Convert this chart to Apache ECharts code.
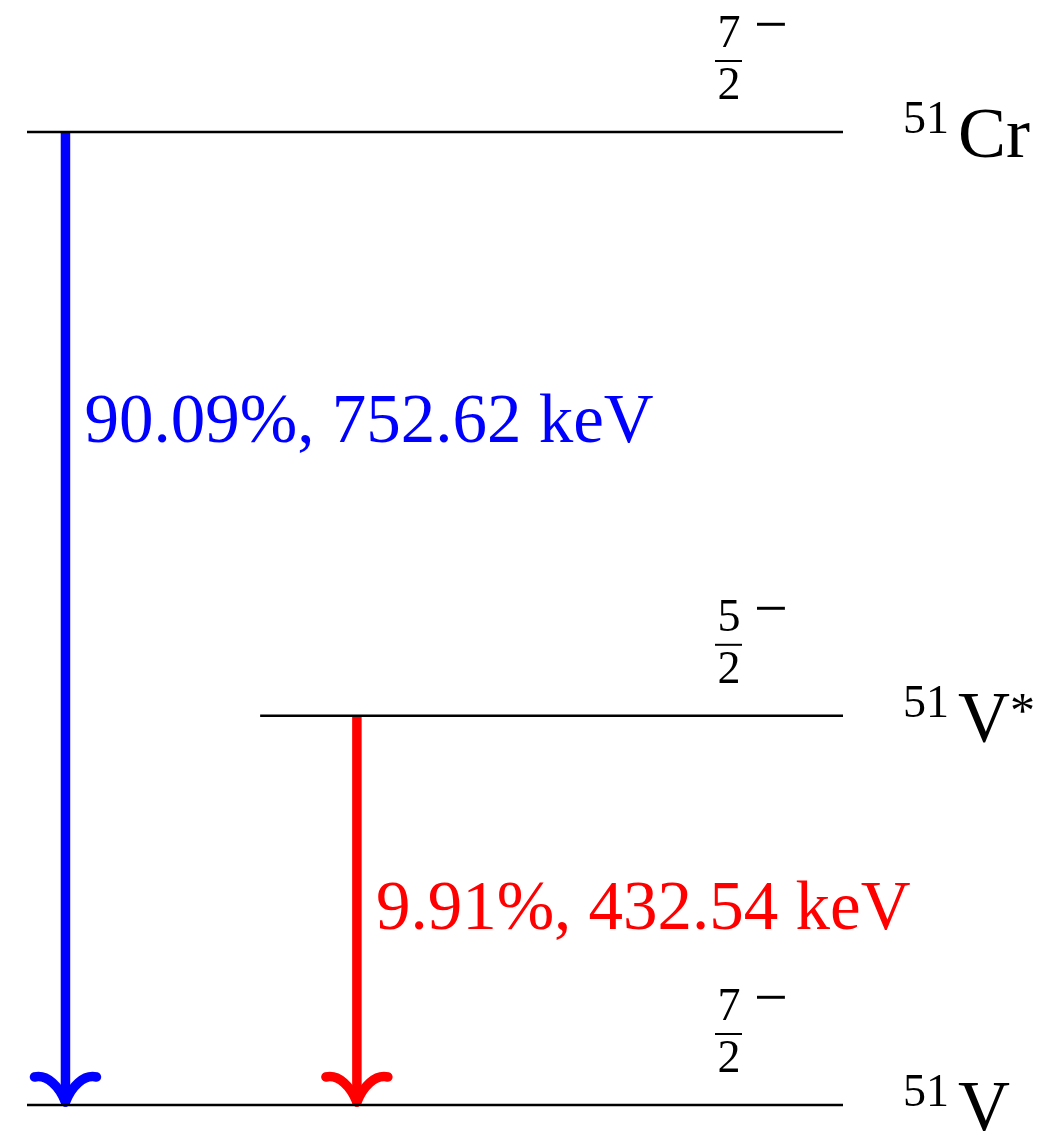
<!DOCTYPE html>
<html>
<head>
<meta charset="utf-8">
<title>51Cr decay scheme</title>
<script src="https://cdn.jsdelivr.net/npm/echarts@6/dist/echarts.min.js"></script>
<style>
  html, body { margin: 0; padding: 0; background: #ffffff; }
  #chart { width: 1040px; height: 1131px; }
</style>
</head>
<body>
<div id="chart"></div>
<script>
// Nuclear levels (drawn height, horizontal extent, labels)
const levelHeights = [5, 2, 0];
const levelStart = [0, 2, 0];
const levelEnd = [7, 7, 7];
const massNumbers = ['51', '51', '51'];
const elements = ['Cr', 'V', 'V'];
const excitedMarks = ['', '*', ''];
const spinNumerators = ['7', '5', '7'];
const spinDenominators = ['2', '2', '2'];
const parities = ['\u2212', '\u2212', '\u2212'];

// Decay branches
const branchX = [0.33, 2.83];
const branchFrom = [5, 2];
const branchTo = [0, 0];
const branchLabelHeights = [3.5, 1.0];
const branchRatios = ['90.09%', '9.91%'];
const branchEnergies = ['752.62', '432.54'];
const branchColors = ['#0000ff', '#ff0000'];

const SERIF = '"Liberation Serif", "DejaVu Serif", serif';

const measureCtx = document.createElement('canvas').getContext('2d');
function textWidth(str, size) {
  measureCtx.font = size + 'px ' + SERIF;
  return measureCtx.measureText(str).width;
}

function txt(x, y, text, size, fill, align) {
  return {
    type: 'text',
    style: {
      x: x, y: y, text: text,
      fontSize: size, fontFamily: SERIF,
      fill: fill, align: align || 'left', verticalAlign: 'middle'
    }
  };
}

const levelData = levelHeights.map((h, i) => [levelStart[i], levelEnd[i], h]);
const branchData = branchX.map((x, i) => [x, branchFrom[i], branchTo[i], branchLabelHeights[i]]);

function renderLevel(params, api) {
  const i = params.dataIndex;
  const a = api.coord([api.value(0), api.value(2)]);
  const b = api.coord([api.value(1), api.value(2)]);
  const y = a[1];
  const xe = b[0];
  const fx = xe - 114;
  const children = [
    { type: 'line', shape: { x1: a[0], y1: y, x2: xe, y2: y },
      style: { stroke: '#000000', lineWidth: 2.5 } },
    txt(fx, y - 97, spinNumerators[i], 46, '#000000', 'center'),
    { type: 'line', shape: { x1: fx - 14, y1: y - 71, x2: fx + 13, y2: y - 71 },
      style: { stroke: '#000000', lineWidth: 2 } },
    txt(fx, y - 45, spinDenominators[i], 46, '#000000', 'center'),
    txt(fx + 42, y - 104, parities[i], 60, '#000000', 'center'),
    txt(xe + 60, y - 11, massNumbers[i], 46, '#000000', 'left'),
    txt(xe + 115, y + 6, elements[i], 72, '#000000', 'left')
  ];
  if (excitedMarks[i]) {
    const w = textWidth(elements[i], 72);
    children.push(txt(xe + 115 + w, y - 2, excitedMarks[i], 50, '#000000', 'left'));
  }
  return { type: 'group', children: children };
}

function renderBranch(params, api) {
  const i = params.dataIndex;
  const top = api.coord([api.value(0), api.value(1)]);
  const tip = api.coord([api.value(0), api.value(2)]);
  const lab = api.coord([api.value(0), api.value(3)]);
  const x = top[0];
  const ty = tip[1];
  const color = branchColors[i];
  const stroke = { stroke: color, lineWidth: 9.5, fill: null, lineCap: 'round' };
  return {
    type: 'group',
    children: [
      { type: 'line', shape: { x1: x, y1: top[1], x2: x, y2: ty - 5 },
        style: { stroke: color, lineWidth: 9.5, lineCap: 'butt' } },
      { type: 'bezierCurve',
        shape: { x1: x - 31, y1: ty - 28, cpx1: x - 18, cpy1: ty - 31, cpx2: x - 6, cpy2: ty - 18, x2: x, y2: ty - 3 },
        style: stroke },
      { type: 'bezierCurve',
        shape: { x1: x + 31, y1: ty - 28, cpx1: x + 18, cpy1: ty - 31, cpx2: x + 6, cpy2: ty - 18, x2: x, y2: ty - 3 },
        style: stroke },
      txt(x + 19, lab[1], branchRatios[i] + ', ' + branchEnergies[i] + ' keV', 69, color, 'left')
    ]
  };
}

const chart = echarts.init(document.getElementById('chart'), null, { renderer: 'canvas' });
chart.setOption({
  animation: false,
  backgroundColor: '#ffffff',
  grid: { left: 27, right: 197, top: 132, bottom: 26 },
  xAxis: { type: 'value', min: 0, max: 7, show: false },
  yAxis: { type: 'value', min: 0, max: 5, show: false },
  series: [
    { type: 'custom', name: 'branches', data: branchData, renderItem: renderBranch,
      encode: { x: 0, y: [1, 2] }, clip: false, z: 2, silent: true },
    { type: 'custom', name: 'levels', data: levelData, renderItem: renderLevel,
      encode: { x: [0, 1], y: 2 }, clip: false, z: 3, silent: true }
  ]
});
</script>
</body>
</html>
